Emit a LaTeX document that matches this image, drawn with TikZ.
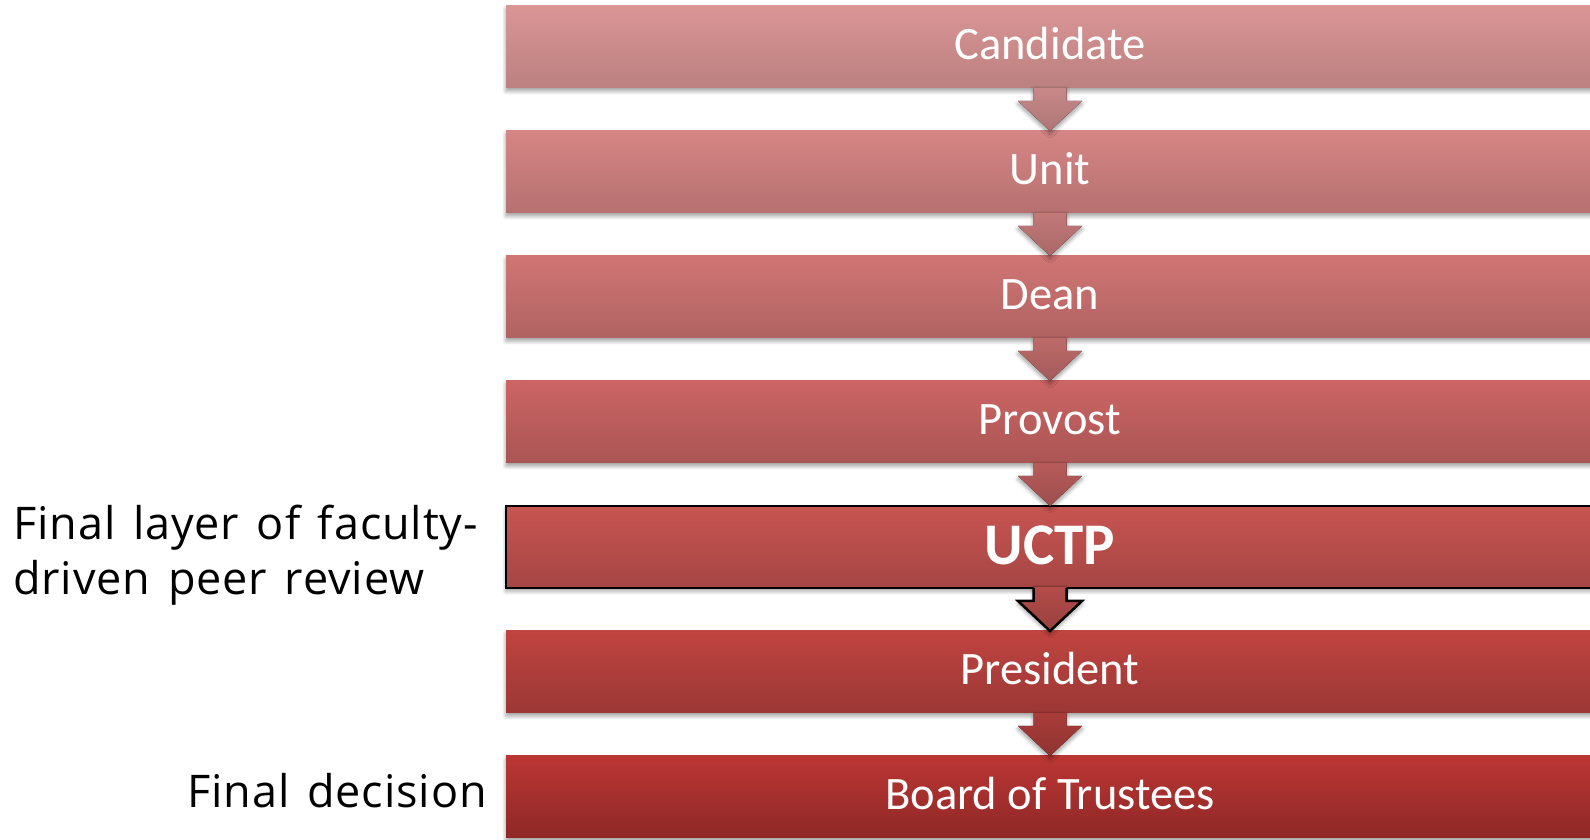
\documentclass[tikz,border=0pt]{standalone}
\usepackage{fontspec}
\setmainfont{Carlito}
\newfontfamily\labelfont[LetterSpace=2,WordSpace=1.4]{Open Sans}
\usetikzlibrary{calc,shadows.blur}
\definecolor{t0}{RGB}{218,149,149}\definecolor{b0}{RGB}{188,128,128}
\definecolor{t1}{RGB}{213,133,132}\definecolor{b1}{RGB}{182,113,112}
\definecolor{t2}{RGB}{208,117,116}\definecolor{b2}{RGB}{176,99,98}
\definecolor{t3}{RGB}{203,101,100}\definecolor{b3}{RGB}{170,85,84}
\definecolor{t4}{RGB}{199,84,81}\definecolor{b4}{RGB}{166,70,68}
\definecolor{t5}{RGB}{192,68,64}\definecolor{b5}{RGB}{155,55,53}
\definecolor{t6}{RGB}{187,54,51}\definecolor{b6}{RGB}{142,40,39}
\tikzset{
  softshadow/.style={blur shadow={shadow xshift=0pt, shadow yshift=-3pt, shadow blur radius=4pt, shadow blur steps=8, shadow opacity=40}},
  stage/.style={rectangle, minimum width=1088pt, minimum height=82pt, inner sep=0pt, outer sep=0pt,
    text=white, font=\fontsize{46.5}{50}\selectfont, text height=36pt, text depth=10pt, softshadow},
  keystage/.style={stage, draw=black, line width=2.5pt, font=\bfseries\fontsize{59}{62}\selectfont, text height=46pt, text depth=10pt},
  sidelabel/.style={font=\labelfont\fontsize{45}{55}\selectfont, text=black, inner sep=0pt, align=left},
}
\begin{document}
\begin{tikzpicture}[x=1pt,y=1pt]
\useasboundingbox (0,0) rectangle (1590,840);
\begin{scope}
\clip (0,0) rectangle (1590,840);
\node[stage, top color=t0, bottom color=b0] (s0) at (1050,793) {Candidate};
\node[stage, top color=t1, bottom color=b1] (s1) at (1050,668) {Unit};
\node[stage, top color=t2, bottom color=b2] (s2) at (1050,543) {Dean};
\node[stage, top color=t3, bottom color=b3] (s3) at (1050,418) {Provost};
\node[keystage, top color=t4, bottom color=b4] (s4) at (1050,293) {UCTP};
\node[stage, top color=t5, bottom color=b5] (s5) at (1050,168) {President};
\node[stage, top color=t6, bottom color=b6] (s6) at (1050,43) {Board of Trustees};
\foreach \i/\j in {0/1,1/2,2/3,3/4,5/6}{
  \fill[softshadow, top color=t\i!40!b\i, bottom color=b\i!92!black]
    ($(s\i.south)+(-16.5,0)$) -- ++(0,-13) -- ++(-15.5,0) -- (s\j.north)
    -- ($(s\i.south)+(32,-13)$) -- ++(-15.5,0) -- ++(0,13) -- cycle;
}
\fill[softshadow, top color=t4!40!b4, bottom color=b4!92!black]
    ($(s4.south)+(-16.5,1.5)$) -- ++(0,-14.5) -- ++(-15.5,0) -- (s5.north)
    -- ($(s4.south)+(32,-13)$) -- ++(-15.5,0) -- ++(0,14.5) -- cycle;
\draw[black, line width=2.5pt, line join=miter]
    ($(s4.south)+(-16.5,0)$) -- ++(0,-13) -- ++(-15.5,0) -- (s5.north)
    -- ($(s4.south)+(32,-13)$) -- ++(-15.5,0) -- ++(0,13);
\end{scope}
\node[sidelabel, anchor=base west] (lab1) at (13,245) {Final layer of faculty-\\driven peer review};
\node[sidelabel, anchor=base east] (lab2) at (487,32) {Final decision};
\end{tikzpicture}
\end{document}
